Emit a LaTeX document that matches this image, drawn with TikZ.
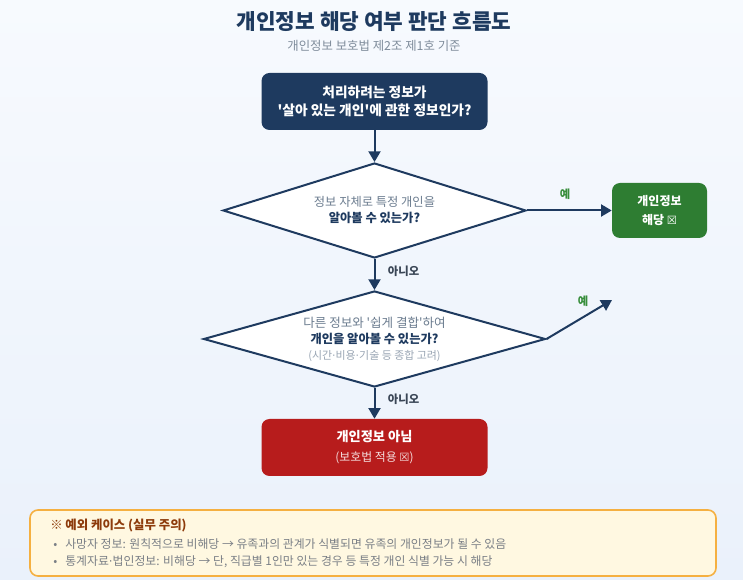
\documentclass[tikz,border=0pt]{standalone}
\usepackage{fontspec}
\setmainfont{Noto Sans CJK KR}
\newfontfamily\symf{DejaVu Sans}
\newfontfamily\qf{Noto Sans CJK KR}
\usetikzlibrary{arrows.meta,shapes.geometric}
\definecolor{navy}{HTML}{1E3A5F}
\definecolor{bgtop}{HTML}{F7FAFE}
\definecolor{bgbot}{HTML}{EAF1FB}
\definecolor{subgray}{HTML}{7F8C9B}
\definecolor{txtgray}{HTML}{6B7C8F}
\definecolor{ltgray}{HTML}{9AA6B4}
\definecolor{okgreen}{HTML}{2E7D32}
\definecolor{lblgreen}{HTML}{388E3C}
\definecolor{nored}{HTML}{B71C1C}
\definecolor{notefill}{HTML}{FFF8E1}
\definecolor{noteline}{HTML}{F5B041}
\definecolor{notetitle}{HTML}{8D3B0B}
\definecolor{notetext}{HTML}{7A7F86}
\definecolor{nolab}{HTML}{3A4656}
\newcommand{\fs}[2]{\fontsize{#1}{#2}\selectfont}
\newcommand{\sq}{{\qf\bfseries'}}
\newcommand{\sqm}{{\qf'}}
\newcommand{\md}{{\symf·}}
\begin{document}
\begin{tikzpicture}[x=0.75pt,y=-0.75pt,
  arr/.style={draw=navy,line width=1.5pt,-{Triangle[length=8pt,width=9pt]}},
  rbox/.style={rounded corners=6pt,minimum width=169.5pt,minimum height=42.75pt,inner sep=0pt,align=center,text=white},
  dia/.style={diamond,draw=navy,line width=1.5pt,fill=white,inner sep=0pt},
  ylab/.style={text=lblgreen,font=\bfseries\fs{8.5}{10}},
  nlab/.style={text=nolab,font=\bfseries\fs{8.5}{10}},
  note/.style={anchor=base west,inner sep=0pt}]
\shade[top color=bgtop,bottom color=bgbot] (0,0) rectangle (743,580);
\useasboundingbox (0,0) rectangle (743,580);
% title
\node[font=\bfseries\fs{16}{19},text=navy] (title) at (374,22) {개인정보 해당 여부 판단 흐름도};
\node[font=\fs{9.3}{11},text=subgray] (sub) at (374,46) {개인정보 보호법 제2조 제1호 기준};
% start box
\node[rbox,fill=navy,font=\bfseries\fs{10.3}{13}] (q0) at (374.5,101.5) {처리하려는 정보가\\\sq 살아 있는 개인\sq 에 관한 정보인가?};
% diamond 1
\node[dia,minimum width=227.25pt,minimum height=71.25pt] (d1) at (374.5,210.5) {};
\node[align=center,inner sep=0pt] (d1t) at (374.5,210) {{\fs{9.2}{13.5}\color{txtgray}정보 자체로 특정 개인을}\\{\bfseries\fs{9.2}{13.5}\color{navy}알아볼 수 있는가?}};
% yes box
\node[rbox,fill=okgreen,minimum width=71.25pt,minimum height=41.25pt,font=\bfseries\fs{9}{14.5}] (yes) at (659.5,210.5) {개인정보\\해당 {\symf\mdseries\fs{8.5}{14.5}☒}};
% diamond 2
\node[dia,minimum width=256.5pt,minimum height=72pt] (d2) at (374.5,339) {};
\node[align=center,inner sep=0pt] (d2t) at (374.5,339.5) {{\fs{9.4}{13}\color{txtgray}다른 정보와 \sqm 쉽게 결합\sqm 하여}\\{\bfseries\fs{9.2}{13}\color{navy}개인을 알아볼 수 있는가?}\\{\fs{8.2}{12}\color{ltgray}(시간\md 비용\md 기술 등 종합 고려)}};
\coordinate (yes2) at (612,300);
% no box
\node[rbox,fill=nored,font=\fs{9.9}{15}] (no) at (374.5,447.5) {{\bfseries 개인정보 아님}\\{\fs{8.9}{15}\color{white!85!nored}(보호법 적용 {\symf\fs{8.5}{15}☒})}};
% connectors
\draw[arr] (q0.south) -- (d1.north);
\draw[arr] (d1.east) -- node[ylab,above=4pt,pos=0.45] {예} (yes.west);
\draw[arr] (d1.south) -- node[nlab,right=6pt,pos=0.4] {아니오} (d2.north);
\draw[arr] (d2.east) -- node[ylab,above=2pt,xshift=-3pt,pos=0.62] {예} (yes2);
\draw[arr] (d2.south) -- node[nlab,right=6pt,pos=0.38] {아니오} (no.north);
% note box
\node[draw=noteline,line width=1.2pt,fill=notefill,rounded corners=6pt,minimum width=514.5pt,minimum height=49.5pt,inner sep=0pt] (nb) at (373,543) {};
\node[note,font=\bfseries\fs{9.3}{11},text=notetitle] (n0) at (50,530) {※ 예외 케이스 (실무 주의)};
\node[note,font=\fs{8.9}{10},text=notetext] (n1) at (53,549) {•\hspace{6pt}사망자 정보: 원칙적으로 비해당 → 유족과의 관계가 식별되면 유족의 개인정보가 될 수 있음};
\node[note,font=\fs{8.9}{10},text=notetext] (n2) at (53,566) {•\hspace{6pt}통계자료\md 법인정보: 비해당 → 단, 직급별 1인만 있는 경우 등 특정 개인 식별 가능 시 해당};
\end{tikzpicture}
\end{document}
